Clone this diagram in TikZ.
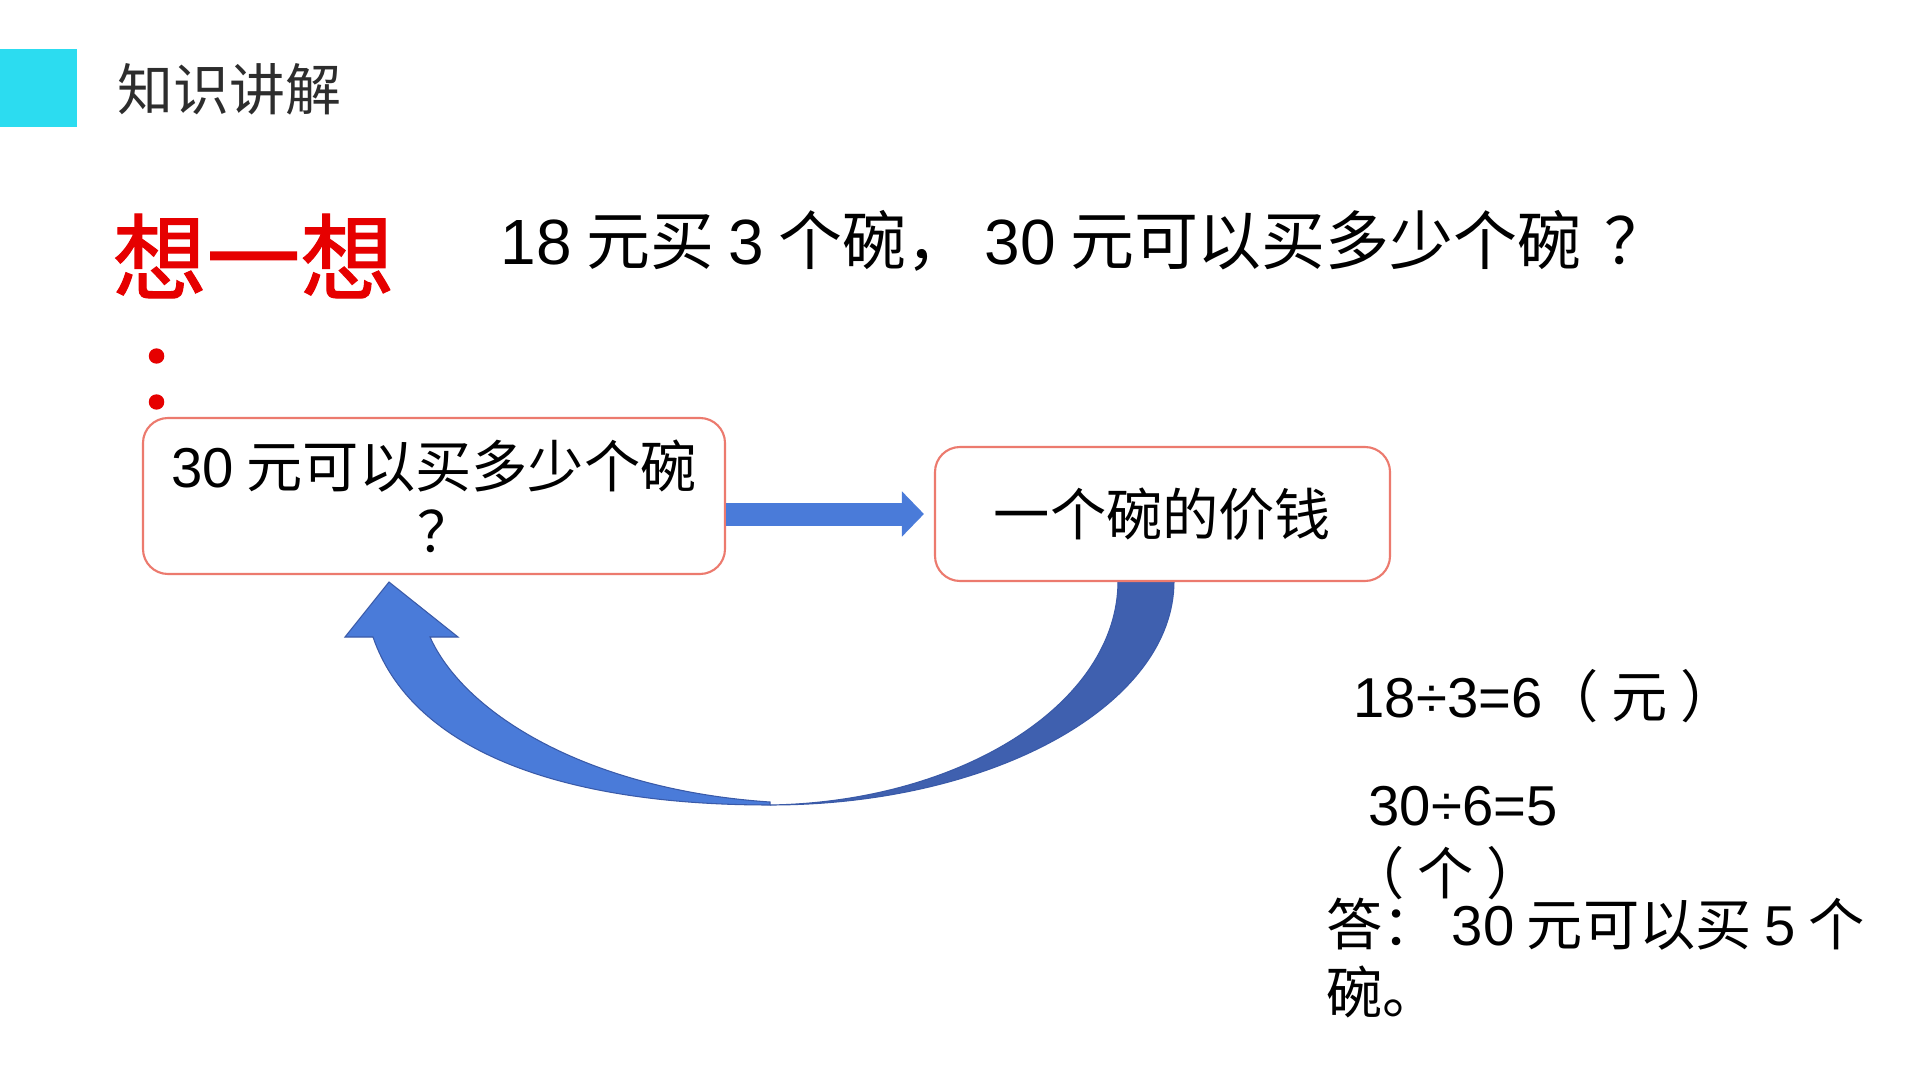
\documentclass[tikz,border=0pt]{standalone}
\usepackage{fontspec}
\setmainfont{Noto Sans CJK SC}
\newfontfamily\lat{Liberation Sans}
\newfontfamily\thinkfont{Noto Sans CJK SC}[FakeBold=1.3]
\usetikzlibrary{arrows.meta}

\definecolor{tabcyan}{RGB}{44,220,240}
\definecolor{titlegray}{RGB}{45,45,45}
\definecolor{thinkred}{RGB}{230,0,0}
\definecolor{boxred}{RGB}{236,122,110}
\definecolor{lightblue}{RGB}{74,123,217}
\definecolor{darkblue}{RGB}{63,96,175}
\definecolor{edgeblue}{RGB}{58,90,168}

\begin{document}
\begin{tikzpicture}[
    box/.style={draw=boxred, line width=0.6pt, rounded corners=0.25cm, fill=white,
                align=center, inner sep=0pt, font=\fontsize{16}{18.5}\selectfont},
    calc/.style={anchor=west, inner sep=0pt, align=left, font=\fontsize{16}{19.3}\selectfont}
]
    \useasboundingbox[fill=white] (0,0) rectangle (19.2,-10.8);

    % Header
    \fill[tabcyan] (0,-0.49) rectangle (0.77,-1.27);
    \node[anchor=west, inner sep=0pt, text=titlegray, font=\fontsize{15.9}{18}\selectfont] (title) at (1.17,-0.895) {知识讲解};

    % Question
    \node[anchor=west, inner sep=0pt, text=thinkred, font=\fontsize{26.7}{30}\thinkfont] (think) at (1.12,-2.56) {想一想};
    \node[inner sep=0pt, text=thinkred, font=\fontsize{26.7}{30}\thinkfont] (colon) at (1.80,-3.79) {：};
    \node[anchor=west, inner sep=0pt, font=\fontsize{18.2}{20}\selectfont] (ask) at (5.00,-2.41) {{\lat 18} 元买 {\lat 3} 个碗， {\lat 30} 元可以买多少个碗\hspace{0.35em}？};

    % Curved arrow (back to the question)
    \fill[darkblue, draw=edgeblue, line width=0.3pt] (11.74,-5.81) .. controls (11.74,-7.05) and (9.93,-8.05) .. (7.70,-8.05)
        .. controls (9.62,-8.02) and (11.18,-7.03) .. (11.18,-5.81) -- cycle;
    \fill[lightblue, draw=edgeblue, line width=0.3pt] (7.70,-8.05) .. controls (5.50,-8.05) and (4.10,-7.45) .. (3.73,-6.37)
        -- (3.45,-6.37) -- (3.89,-5.82) -- (4.58,-6.37) -- (4.30,-6.37)
        .. controls (4.65,-7.15) and (5.90,-7.90) .. (7.70,-8.02) -- cycle;

    % Boxes
    \node[box, minimum width=5.82cm, minimum height=1.56cm] (q) at (4.34,-4.96) {{\lat 30} 元可以买多少个碗\\\hspace{0.4em}？};
    \node[box, minimum width=4.55cm, minimum height=1.34cm] (p) at (11.625,-5.14) {一个碗的价钱};

    % Straight arrow
    \draw[lightblue, line width=0.23cm, -{Triangle[width=0.44cm, length=0.22cm]}, shorten >=0.1cm] (q.east |- p.west) -- (p.west);

    % Working
    \node[calc] (c1) at (13.53,-6.96) {{\lat 18÷3=6}（ 元 ）};
    \node[calc] (c2) at (13.68,-8.06) {\lat 30÷6=5};
    \node[calc] (c3) at (13.48,-8.73) {（ 个 ）};
    \node[calc] (ans) at (13.26,-9.58) {答： {\lat 30} 元可以买 {\lat 5} 个\\碗。};
\end{tikzpicture}
\end{document}
